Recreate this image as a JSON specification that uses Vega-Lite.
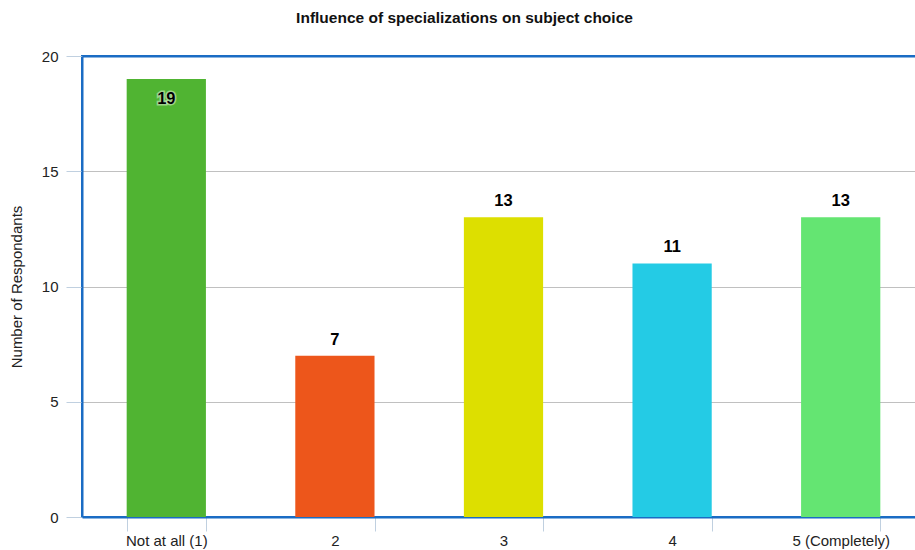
{
  "$schema": "https://vega.github.io/schema/vega-lite/v6.json",
  "width": 843,
  "height": 461,
  "autosize": {"type": "none"},
  "padding": {"left": 82, "top": 56, "right": 0, "bottom": 33},
  "background": "white",
  "config": {
    "font": "Liberation Sans"
  },
  "view": {"stroke": "#1a6cc4", "strokeWidth": 2},
  "title": {
    "text": "Influence of specializations on subject choice",
    "font": "Liberation Sans",
    "fontSize": 15.5,
    "fontWeight": "bold",
    "color": "#111111",
    "anchor": "middle",
    "dx": -39,
    "offset": 23
  },
  "data": {
    "values": [
      {"answer": "Not at all (1)", "count": 19, "color": "#50B432"},
      {"answer": "2", "count": 7, "color": "#ED561B"},
      {"answer": "3", "count": 13, "color": "#DDDF00"},
      {"answer": "4", "count": 11, "color": "#24CBE5"},
      {"answer": "5 (Completely)", "count": 13, "color": "#64E572"}
    ]
  },
  "encoding": {
    "x": {
      "field": "answer",
      "type": "nominal",
      "sort": null,
      "scale": {"paddingInner": 0.53, "paddingOuter": 0.265},
      "axis": {
        "title": null,
        "labelAngle": 0,
        "labelFontSize": 15,
        "labelColor": "#222222",
        "labelPadding": 2,
        "tickBand": "extent",
        "tickSize": 14,
        "tickColor": "#c0d0e0",
        "tickWidth": 1,
        "domainColor": "#1a6cc4",
        "domainWidth": 2,
        "grid": false
      }
    },
    "y": {
      "field": "count",
      "type": "quantitative",
      "scale": {"domain": [0, 20], "nice": false},
      "axis": {
        "title": "Number of Respondants",
        "titleFontSize": 15,
        "titleFontWeight": "normal",
        "titleColor": "#222222",
        "titlePadding": 17,
        "values": [0, 5, 10, 15, 20],
        "labelFontSize": 15,
        "labelColor": "#222222",
        "labelPadding": 8,
        "tickSize": 16,
        "tickColor": "#c0d0e0",
        "domainColor": "#1a6cc4",
        "domainWidth": 2,
        "grid": true,
        "gridColor": {"condition": {"test": "datum.value >= 20", "value": "#1a6cc4"}, "value": "#c0c0c0"},
        "gridWidth": {"condition": {"test": "datum.value >= 20", "value": 2}, "value": 1}
      }
    }
  },
  "layer": [
    {
      "mark": {"type": "bar"},
      "encoding": {
        "color": {"field": "color", "type": "nominal", "scale": null, "legend": null}
      }
    },
    {
      "transform": [{"filter": "datum.count < 18"}],
      "mark": {"type": "text", "baseline": "bottom", "dy": -8, "fontSize": 16.5, "fontWeight": "bold", "color": "#000000"},
      "encoding": {"text": {"field": "count", "type": "quantitative"}}
    },
    {
      "transform": [{"filter": "datum.count >= 18"}],
      "mark": {"type": "text", "baseline": "top", "dy": 12, "fontSize": 16.5, "fontWeight": "bold", "stroke": "#e8f5e0", "strokeWidth": 3, "strokeOpacity": 0.5, "color": "#e8f5e0"},
      "encoding": {"text": {"field": "count", "type": "quantitative"}}
    },
    {
      "transform": [{"filter": "datum.count >= 18"}],
      "mark": {"type": "text", "baseline": "top", "dy": 12, "fontSize": 16.5, "fontWeight": "bold", "color": "#000000"},
      "encoding": {"text": {"field": "count", "type": "quantitative"}}
    }
  ]
}
